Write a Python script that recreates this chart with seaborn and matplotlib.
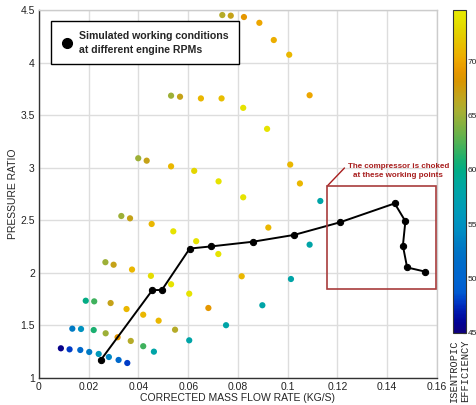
import matplotlib
matplotlib.use("Agg")
import matplotlib.pyplot as plt
from matplotlib.colors import LinearSegmentedColormap, Normalize, rgb_to_hsv, hsv_to_rgb
from matplotlib.cm import ScalarMappable
from matplotlib.lines import Line2D
from matplotlib.patches import Rectangle
import numpy as np
import pandas as pd
import seaborn as sns

# ---- data: simulated compressor map points ----
flow = [0.0088, 0.0123, 0.0166, 0.0202, 0.0240, 0.0281, 0.0320, 0.0355,
        0.0134, 0.0169, 0.0220, 0.0268, 0.0316, 0.0369, 0.0419, 0.0462,
        0.0188, 0.0222, 0.0288, 0.0352, 0.0419, 0.0481, 0.0547, 0.0604,
        0.0267, 0.0300, 0.0374, 0.0450, 0.0531, 0.0604, 0.0681, 0.0752,
        0.0331, 0.0366, 0.0453, 0.0540, 0.0632, 0.0721, 0.0815, 0.0898,
        0.0399, 0.0433, 0.0531, 0.0624, 0.0722, 0.0821, 0.0922, 0.1013,
        0.0531, 0.0567, 0.0651, 0.0734, 0.0821, 0.0917, 0.1010, 0.1049, 0.1088,
        0.0737, 0.0771, 0.0824, 0.0886, 0.0944, 0.1006, 0.1088, 0.1131]
pr = [1.280, 1.270, 1.264, 1.245, 1.226, 1.197, 1.169, 1.140,
      1.467, 1.464, 1.454, 1.423, 1.385, 1.350, 1.300, 1.248,
      1.733, 1.727, 1.711, 1.654, 1.600, 1.543, 1.457, 1.356,
      2.100, 2.076, 2.030, 1.970, 1.890, 1.800, 1.664, 1.500,
      2.540, 2.518, 2.464, 2.394, 2.300, 2.178, 1.966, 1.690,
      3.090, 3.067, 3.013, 2.970, 2.870, 2.718, 2.430, 1.940,
      3.686, 3.676, 3.660, 3.660, 3.570, 3.370, 3.030, 2.850, 2.267,
      4.454, 4.448, 4.435, 4.380, 4.216, 4.076, 3.690, 2.683]
eff = [45.5, 48.0, 51.0, 53.0, 56.0, 54.0, 51.0, 48.0,
       53.0, 55.0, 61.0, 65.0, 69.0, 66.0, 62.0, 58.0,
       60.0, 62.0, 67.0, 71.0, 71.0, 71.0, 66.0, 58.0,
       65.0, 67.0, 71.0, 73.5, 74.0, 74.0, 69.0, 58.0,
       65.0, 67.0, 71.0, 74.0, 74.0, 74.0, 71.0, 58.0,
       65.0, 67.0, 71.0, 73.0, 74.0, 74.0, 71.0, 58.0,
       65.0, 67.0, 71.0, 71.5, 74.0, 74.0, 71.0, 71.0, 58.0,
       66.0, 67.0, 69.0, 70.0, 70.5, 71.0, 70.0, 58.0]

# ---- data: working line at different engine RPMs ----
line_flow = [0.0249, 0.0456, 0.0494, 0.0606, 0.0690, 0.0860, 0.1026,
             0.1210, 0.1430, 0.1473, 0.1463, 0.1480, 0.1553]
line_pr = [1.170, 1.835, 1.835, 2.230, 2.250, 2.295, 2.360,
           2.480, 2.660, 2.490, 2.257, 2.050, 2.010]

xticks = [0, 0.02, 0.04, 0.06, 0.08, 0.1, 0.12, 0.14, 0.16]
xticklabels = ["0", "0.02", "0.04", "0.06", "0.08", "0.1", "0.12", "0.14", "0.16"]
yticks = [1, 1.5, 2, 2.5, 3, 3.5, 4, 4.5]
yticklabels = ["1", "1.5", "2", "2.5", "3", "3.5", "4", "4.5"]
cbar_ticks = [45, 50, 55, 60, 65, 70]
eff_min, eff_max = 45, 74.7

# parula-like colormap (more saturated, as in the reference)
parula_pts = np.array([
    (0.2081, 0.1663, 0.5292), (0.2123, 0.2138, 0.6270), (0.1959, 0.2645, 0.7279),
    (0.1253, 0.3242, 0.8303), (0.0117, 0.3875, 0.8820), (0.0165, 0.4266, 0.8786),
    (0.0499, 0.4586, 0.8641), (0.0723, 0.4887, 0.8467), (0.0793, 0.5200, 0.8312),
    (0.0641, 0.5570, 0.8240), (0.0343, 0.5966, 0.8199), (0.0239, 0.6287, 0.8038),
    (0.0228, 0.6535, 0.7768), (0.0384, 0.6743, 0.7436), (0.0843, 0.6928, 0.7062),
    (0.1453, 0.7098, 0.6646), (0.2178, 0.7250, 0.6193), (0.3022, 0.7376, 0.5712),
    (0.3953, 0.7459, 0.5244), (0.4871, 0.7491, 0.4840), (0.5709, 0.7485, 0.4494),
    (0.6473, 0.7456, 0.4188), (0.7184, 0.7411, 0.3905), (0.7858, 0.7356, 0.3633),
    (0.8507, 0.7299, 0.3360), (0.9139, 0.7258, 0.3063), (0.9739, 0.7314, 0.2666),
    (0.9990, 0.7653, 0.2164), (0.9880, 0.8066, 0.1794), (0.9697, 0.8481, 0.1475),
    (0.9589, 0.8949, 0.1132), (0.9661, 0.9514, 0.0755), (0.9763, 0.9831, 0.0538)])
hsv = rgb_to_hsv(parula_pts)
hsv[:, 1] = np.clip(hsv[:, 1] * 1.5, 0, 1)
hsv[:, 2] = hsv[:, 2] * 0.93
parula = LinearSegmentedColormap.from_list("parula", hsv_to_rgb(hsv))

sns.set_style("white")
plt.rcParams['font.family'] = ['Liberation Sans', 'DejaVu Sans']

fig = plt.figure(figsize=(4.76, 4.05), dpi=100)
ax = fig.add_axes([0.0819, 0.0674, 0.8361, 0.9074])

df = pd.DataFrame({"flow": flow, "pr": pr, "eff": eff})
sns.scatterplot(data=df, x="flow", y="pr", hue="eff", palette=parula,
                hue_norm=(eff_min, eff_max), s=20, edgecolor="none",
                legend=False, ax=ax, zorder=3)

dl = pd.DataFrame({"flow": line_flow, "pr": line_pr})
sns.lineplot(data=dl, x="flow", y="pr", sort=False, color="black", lw=1.4,
             marker="o", markersize=4.5, markeredgecolor="black",
             ax=ax, zorder=4)

ax.set_xlim(0, 0.16)
ax.set_ylim(1, 4.5)
ax.set_xticks(xticks)
ax.set_xticklabels(xticklabels)
ax.set_yticks(yticks)
ax.set_yticklabels(yticklabels)
ax.tick_params(direction="in", length=3, width=0.8, labelsize=7.5,
               colors="#222222", pad=3)
ax.grid(True, color="#dddddd", lw=1)
ax.set_axisbelow(True)
for side in ["left", "bottom"]:
    ax.spines[side].set_color("#333333")
    ax.spines[side].set_linewidth(1.0)
for side in ["top", "right"]:
    ax.spines[side].set_color("#cccccc")
    ax.spines[side].set_linewidth(1.0)
ax.set_xlabel("CORRECTED MASS FLOW RATE (KG/S)", fontsize=7.5, labelpad=1)
ax.set_ylabel("PRESSURE RATIO", fontsize=7.5, labelpad=2)

# choked region box and annotation
ax.add_patch(Rectangle((0.1159, 1.842), 0.1595 - 0.1159, 2.826 - 1.842,
                       fill=False, ec="#a83c3c", lw=1.2, zorder=5))
ax.annotate("The compressor is choked\nat these working points",
            xy=(0.1159, 2.826), xytext=(0.1445, 2.97),
            ha="center", va="center", fontsize=5.8, fontweight="bold",
            color="#a81e1e", linespacing=1.35,
            arrowprops=dict(arrowstyle="-", color="#a81e1e", lw=1,
                            shrinkA=0, shrinkB=0, relpos=(0.0, 0.9)))

# legend
handle = Line2D([], [], ls="none", marker="o", color="black", markersize=7)
leg = ax.legend([handle], ["Simulated working conditions\nat different engine RPMs"],
                loc="upper left", bbox_to_anchor=(0.03, 0.97), borderaxespad=0,
                frameon=True, fancybox=False, edgecolor="black", framealpha=1,
                prop=dict(size=7.6, weight="bold"), handletextpad=0.5,
                borderpad=0.9, handlelength=1.3)
leg.get_texts()[0].set_linespacing(1.5)
leg.get_frame().set_linewidth(1.0)

# colorbar
cax = fig.add_axes([0.9523, 0.178, 0.0267, 0.797])
sm = ScalarMappable(norm=Normalize(eff_min, eff_max), cmap=parula)
cb = fig.colorbar(sm, cax=cax, ticks=cbar_ticks)
cb.outline.set_edgecolor("#333333")
cb.outline.set_linewidth(0.8)
cax.tick_params(direction="in", length=2.5, labelsize=6, colors="#222222", pad=1)
fig.text(0.965, 0.007, "ISENTROPIC\nEFFICIENCY", rotation=90, ha="center",
         va="bottom", family=["Liberation Mono", "DejaVu Sans Mono"],
         fontsize=7.5, linespacing=1.1)

fig.savefig("out.png", dpi=100)
